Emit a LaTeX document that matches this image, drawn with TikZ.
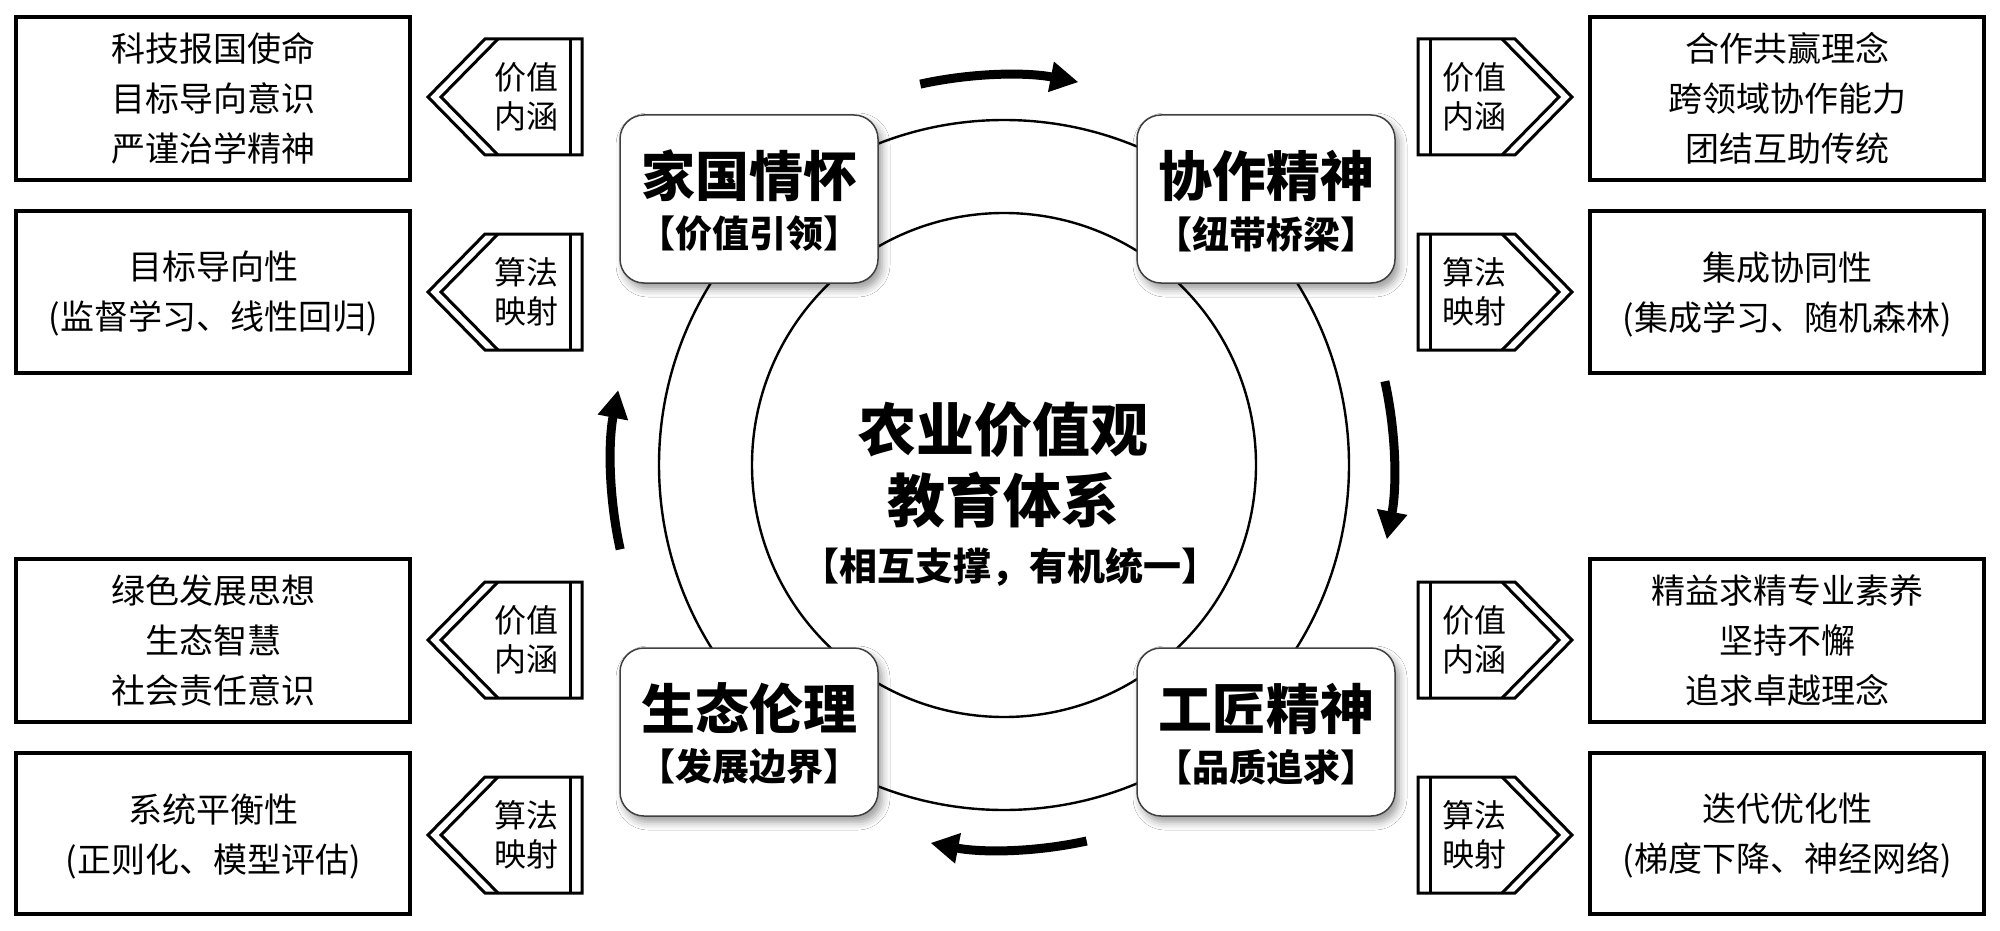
\documentclass[tikz,border=0pt]{standalone}
\usepackage{fontspec}
\setmainfont{Noto Sans CJK SC}
\usetikzlibrary{arrows.meta,calc,shadows.blur}
\tikzset{
  infobox/.style={draw=black,line width=3.5pt,fill=white},
  infotext/.style={align=center,font=\fontsize{34}{50}\selectfont},
  tagline/.style={draw=black,line width=3pt,line join=miter},
  tagtext/.style={align=center,font=\fontsize{32}{39}\selectfont},
  corebox/.style={draw=black!75,line width=1.5pt,fill=white,rounded corners=24pt,
    minimum width=258pt,minimum height=168pt,
    blur shadow={shadow xshift=4pt,shadow yshift=-6pt,shadow blur radius=8pt,shadow opacity=40}},
  coretitle/.style={font=\bfseries\fontsize{54}{54}\selectfont},
  coresub/.style={font=\bfseries\fontsize{37}{37}\selectfont},
  ring/.style={draw=black,line width=2.4pt},
  flowarrow/.style={line width=9pt,-{Triangle[length=28pt,width=29pt]}}
}
\newcommand\Ltag[3]{%
  \pgfmathsetmacro\ya{#2}\pgfmathsetmacro\ym{#2+58}\pgfmathsetmacro\yb{#2+116}%
  \draw[tagline] (582,\ya) -- (485,\ya) -- (428,\ym) -- (485,\yb) -- (582,\yb) -- cycle;
  \draw[tagline] (498,\ya) -- (441,\ym) -- (498,\yb);
  \draw[tagline] (570,\ya) -- (570,\yb);
  \node[tagtext] (#1) at (526,\ym) {#3};}
\newcommand\Rtag[3]{%
  \pgfmathsetmacro\ya{#2}\pgfmathsetmacro\ym{#2+58}\pgfmathsetmacro\yb{#2+116}%
  \draw[tagline] (1418,\ya) -- (1515,\ya) -- (1572,\ym) -- (1515,\yb) -- (1418,\yb) -- cycle;
  \draw[tagline] (1502,\ya) -- (1559,\ym) -- (1502,\yb);
  \draw[tagline] (1430,\ya) -- (1430,\yb);
  \node[tagtext] (#1) at (1474,\ym) {#3};}
\begin{document}
\begin{tikzpicture}[x=1pt,y=-1pt]
\useasboundingbox (0,0) rectangle (2000,931);
\fill[white] (0,0) rectangle (2000,931);
% rings
\coordinate (C) at (1004,465);
\draw[ring] (C) circle[radius=345];
\draw[ring] (C) circle[radius=252];
% core boxes
\node[corebox] (jg) at (749,199) {};
\node[corebox] (xz) at (1266,199) {};
\node[corebox] (st) at (749,732) {};
\node[corebox] (gj) at (1266,732) {};
\node[coretitle] (jgt) at (749,176) {家国情怀};
\node[coresub]   (jgs) at (749,234) {【价值引领】};
\node[coretitle] (xzt) at (1266,176) {协作精神};
\node[coresub]   (xzs) at (1266,234) {【纽带桥梁】};
\node[coretitle] (stt) at (749,709) {生态伦理};
\node[coresub]   (sts) at (749,767) {【发展边界】};
\node[coretitle] (gjt) at (1266,709) {工匠精神};
\node[coresub]   (gjs) at (1266,767) {【品质追求】};
% center
\node[font=\bfseries\fontsize{58}{71}\selectfont,align=center] (ctitle) at (1003,465) {农业价值观\\教育体系};
\node[font=\bfseries\fontsize{38}{38}\selectfont] (csub) at (1010,567) {【相互支撑，有机统一】};
% flow arrows
\coordinate (a1s) at ($(C)+(-102.4:390)$);
\coordinate (a2s) at ($(C)+(-12.4:390)$);
\coordinate (a3s) at ($(C)+(77.6:385)$);
\coordinate (a4s) at ($(C)+(167.6:393)$);
\draw[flowarrow] (a1s) arc[start angle=-102.4,end angle=-79,radius=390];
\draw[flowarrow] (a2s) arc[start angle=-12.4,end angle=11,radius=390];
\draw[flowarrow] (a3s) arc[start angle=77.6,end angle=101,radius=385];
\draw[flowarrow] (a4s) arc[start angle=167.6,end angle=191,radius=393];
% left side boxes
\draw[infobox] (16,17) rectangle (410,180);
\node[infotext] (l1) at (213,98.5) {科技报国使命\\目标导向意识\\严谨治学精神};
\draw[infobox] (16,211) rectangle (410,373);
\node[infotext] (l2) at (213,294) {目标导向性\\(监督学习、线性回归)};
\draw[infobox] (16,559) rectangle (410,722);
\node[infotext] (l3) at (213,640.5) {绿色发展思想\\生态智慧\\社会责任意识};
\draw[infobox] (16,753) rectangle (410,914);
\node[infotext] (l4) at (213,836) {系统平衡性\\(正则化、模型评估)};
% right side boxes
\draw[infobox] (1590,17) rectangle (1984,180);
\node[infotext] (r1) at (1787,98.5) {合作共赢理念\\跨领域协作能力\\团结互助传统};
\draw[infobox] (1590,211) rectangle (1984,373);
\node[infotext] (r2) at (1787,294) {集成协同性\\(集成学习、随机森林)};
\draw[infobox] (1590,559) rectangle (1984,722);
\node[infotext] (r3) at (1787,640.5) {精益求精专业素养\\坚持不懈\\追求卓越理念};
\draw[infobox] (1590,753) rectangle (1984,914);
\node[infotext] (r4) at (1787,836) {迭代优化性\\(梯度下降、神经网络)};
% tags
\Ltag{lt1}{39}{价值\\内涵}
\Ltag{lt2}{234}{算法\\映射}
\Ltag{lt3}{582}{价值\\内涵}
\Ltag{lt4}{777}{算法\\映射}
\Rtag{rt1}{39}{价值\\内涵}
\Rtag{rt2}{234}{算法\\映射}
\Rtag{rt3}{582}{价值\\内涵}
\Rtag{rt4}{777}{算法\\映射}
\end{tikzpicture}
\end{document}
